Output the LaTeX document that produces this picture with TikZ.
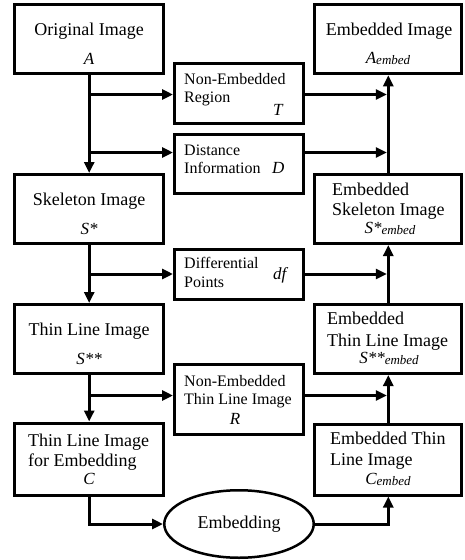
\documentclass[tikz,border=0pt]{standalone}
\usepackage{fontspec}
\setmainfont{Liberation Serif}
\usetikzlibrary{arrows.meta,shapes.geometric}
\newcommand\embsub{{\fontsize{13}{13}\selectfont\itshape\raisebox{-1pt}{embed}}}
\newcommand\vari[1]{{\fontsize{17}{17}\selectfont\itshape #1}}
\begin{document}
\begin{tikzpicture}[x=1pt,y=-1pt,
 box/.style={draw, line width=3pt, inner sep=0pt},
 lbox/.style={box, minimum width=149pt, minimum height=69pt},
 rbox/.style={box, minimum width=147pt, minimum height=69pt},
 mbox/.style={box, minimum width=129pt},
 big/.style={font=\fontsize{18}{20}\selectfont, inner sep=0pt},
 mid/.style={font=\fontsize{16}{18}\selectfont, inner sep=0pt},
 arr/.style={line width=3pt, -{Triangle[length=11pt,width=10pt]}},
]
\useasboundingbox (0,0) rectangle (465,560);
% boxes
\node[lbox] (a) at (89.2,39.3) {};
\node[lbox] (s) at (89.2,209) {};
\node[lbox] (ss) at (89.2,339) {};
\node[lbox, minimum height=72pt] (c) at (89.2,459) {};
\node[rbox] (ae) at (388.3,39.3) {};
\node[rbox] (se) at (388.3,209) {};
\node[rbox] (sse) at (388.3,339) {};
\node[rbox, minimum height=71pt] (ce) at (388.3,459.5) {};
\node[mbox, minimum height=60pt] (t) at (239,93.5) {};
\node[mbox, minimum height=58.5pt] (d) at (239,164.2) {};
\node[mbox, minimum height=50pt] (df) at (239,274) {};
\node[mbox, minimum height=70pt] (r) at (239,399) {};
\node[draw, ellipse, line width=2.5pt, minimum width=149.5pt, minimum height=67.5pt, inner sep=0pt, big] (emb) at (239,524) {Embedding};
% texts left
\node[big, anchor=base] (a1) at (89,35) {Original Image};
\node[big, anchor=base] (a2) at (89,64) {\vari{A}};
\node[big, anchor=base] (s1) at (89,205) {Skeleton Image};
\node[big, anchor=base] (s2) at (89,234) {\vari{S*}};
\node[big, anchor=base] (ss1) at (89,335) {Thin Line Image};
\node[big, anchor=base] (ss2) at (89,364) {\vari{S**}};
\node[big, anchor=base west] (c1) at (28,446) {Thin Line Image};
\node[big, anchor=base west] (c2) at (28,466) {for Embedding};
\node[big, anchor=base] (c3) at (89,484) {\vari{C}};
% texts middle
\node[mid, anchor=base west] (t1) at (184,84) {Non-Embedded};
\node[mid, anchor=base west] (t2) at (184,102) {Region};
\node[mid, anchor=base west] (t3) at (273,115) {\vari{T}};
\node[mid, anchor=base west] (d1) at (184,155) {Distance};
\node[mid, anchor=base west] (d2) at (184,173) {Information};
\node[mid, anchor=base west] (d3) at (272,173) {\vari{D}};
\node[mid, anchor=base west] (f1) at (184,268) {Differential};
\node[mid, anchor=base west] (f2) at (184,287) {Points};
\node[mid, anchor=base west] (f3) at (273,279) {\vari{df}};
\node[mid, anchor=base west] (r1) at (184,386) {Non-Embedded};
\node[mid, anchor=base west] (r2) at (184,404) {Thin Line Image};
\node[mid, anchor=base] (r3) at (235,424) {\vari{R}};
% texts right
\node[big, anchor=base] (ae1) at (389,35) {Embedded Image};
\node[big, anchor=base] (ae2) at (388,63) {\vari{A}\embsub};
\node[big, anchor=base west] (se1) at (332,195) {Embedded};
\node[big, anchor=base west] (se2) at (332,215) {Skeleton Image};
\node[big, anchor=base] (se3) at (390,233) {\vari{S*}\embsub};
\node[big, anchor=base west] (sse1) at (327,324) {Embedded};
\node[big, anchor=base west] (sse2) at (327,346) {Thin Line Image};
\node[big, anchor=base] (sse3) at (389,363) {\vari{S**}\embsub};
\node[big, anchor=base west] (ce1) at (330,444) {Embedded Thin};
\node[big, anchor=base west] (ce2) at (330,465) {Line Image};
\node[big, anchor=base] (ce3) at (388,484) {\vari{C}\embsub};
% connectors
\coordinate (tl) at (89.2,94.5);
\coordinate (dl) at (89.2,152.5);
\coordinate (fl) at (89.2,274);
\coordinate (rl) at (89.2,395.5);
\draw[arr] (a) -- (s);
\draw[arr] (tl) -- (tl -| t.west);
\draw[arr] (dl) -- (dl -| d.west);
\draw[arr] (tl -| t.east) -- ([xshift=-1.5pt]tl -| ae.south);
\draw[arr] (dl -| d.east) -- ([xshift=-1.5pt]dl -| ae.south);
\draw[arr] (se) -- (ae);
\draw[arr] (s) -- (ss);
\draw[arr] (fl) -- (fl -| df.west);
\draw[arr] (fl -| df.east) -- ([xshift=-1.5pt]fl -| se.south);
\draw[arr] (sse) -- (se);
\draw[arr] (ss) -- (c);
\draw[arr] (rl) -- (rl -| r.west);
\draw[arr] (rl -| r.east) -- ([xshift=-1.5pt]rl -| sse.south);
\draw[arr] (ce) -- (sse);
\draw[arr] (c.south) |- (emb.west);
\draw[arr] (emb.east) -| (ce.south);
\end{tikzpicture}
\end{document}
